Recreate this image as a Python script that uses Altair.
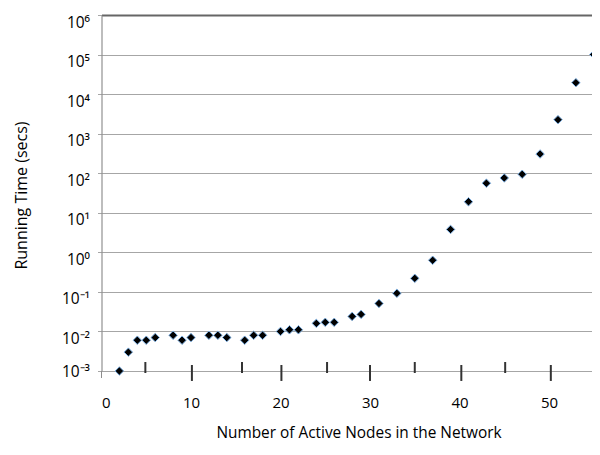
import altair as alt
import pandas as pd

# Data
nodes = [2, 3, 4, 5, 6, 8, 9, 10, 12, 13, 14, 16, 17, 18, 20, 21, 22, 24, 25, 26,
         28, 29, 31, 33, 35, 37, 39, 41, 43, 45, 47, 49, 51, 53, 55]
run_time = [0.001, 0.003, 0.006, 0.006, 0.007, 0.008, 0.006, 0.007, 0.008, 0.008,
            0.007, 0.006, 0.008, 0.008, 0.010, 0.011, 0.011, 0.016, 0.017, 0.017,
            0.024, 0.027, 0.051, 0.092, 0.22, 0.63, 3.8, 19, 56, 76, 94, 306,
            2260, 19500, 100000]

# decorative tick marks along the bottom line (as drawn in the original)
tick_x = [4.9, 10.1, 15.7, 20.1, 25.2, 30.0, 35.0, 40.2, 45.1, 50.2]
tick_top = [1.69e-3, 1.42e-3, 1.69e-3, 1.42e-3, 1.69e-3, 1.42e-3, 1.69e-3, 1.42e-3, 1.69e-3, 1.42e-3]
tick_bot = [8.9e-4, 5.6e-4, 8.9e-4, 5.6e-4, 8.9e-4, 5.6e-4, 8.9e-4, 5.6e-4, 8.9e-4, 5.6e-4]

y_ticks = [1e-3, 1e-2, 1e-1, 1e0, 1e1, 1e2, 1e3, 1e4, 1e5, 1e6]
x_ticks = [0, 10, 20, 30, 40, 50]

df = pd.DataFrame({"n": nodes, "t": run_time})
ticks_df = pd.DataFrame({"x": tick_x, "y1": tick_top, "y2": tick_bot})
stub_df = pd.DataFrame({"x": [0], "y1": [1e-3], "y2": [6.65e-4]})

FONT = "Open Sans"

x_scale = alt.Scale(domain=[0, 54.8], nice=False, zero=False)
y_scale = alt.Scale(type="log", domain=[1e-3, 1e6], nice=False)

sup_expr = (
    "'10' + (round(log(datum.value)/LN10) < 0 ? '\u207b' : '') + "
    "substring('\u2070\u00b9\u00b2\u00b3\u2074\u2075\u2076\u2077\u2078\u2079', "
    "abs(round(log(datum.value)/LN10)), abs(round(log(datum.value)/LN10)) + 1)"
)

points = alt.Chart(df).mark_point(
    shape="diamond", filled=True, size=72, fill="#000000",
    stroke="#7fb2e5", strokeWidth=1, opacity=1, clip=False
).encode(
    x=alt.X("n:Q", scale=x_scale, axis=alt.Axis(
        values=x_ticks, title="Number of Active Nodes in the Network",
        grid=False, domain=False, ticks=False, labelPadding=24,
        labelFont=FONT, labelFontSize=15, labelColor="#000000",
        titleFont=FONT, titleFontSize=15.4, titleFontWeight="normal", titleColor="#000000",
        titleX=257, titleY=66, titleBaseline="alphabetic", titleAnchor="middle",
    )),
    y=alt.Y("t:Q", scale=y_scale, axis=alt.Axis(
        values=y_ticks, labelExpr=sup_expr, title="Running Time (secs)",
        grid=True, gridColor={"condition": {"test": "datum.value >= 1e6", "value": "#666666"}, "value": "#a6a6a6"},
        gridWidth={"condition": {"test": "datum.value >= 1e6", "value": 2}, "value": 1},
        domain=True, domainColor="#8c8c8c", domainWidth=1,
        ticks=True, tickSize=4, tickColor="#a6a6a6",
        labelPadding=8, labelBaseline="middle",
        labelOffset={"condition": {"test": "datum.value <= 1e-3", "value": 0}, "value": 7},
        labelFont=FONT, labelFontSize=15.5, labelColor="#000000",
        titleFont=FONT, titleFontSize=16, titleFontWeight="normal", titleColor="#000000",
        titleX=-75.5, titleY=180, titleBaseline="alphabetic", titleAngle=270,
    )),
)

tick_marks = alt.Chart(ticks_df).mark_rule(color="#333333", strokeWidth=2).encode(
    x=alt.X("x:Q", scale=x_scale),
    y=alt.Y("y1:Q", scale=y_scale),
    y2="y2:Q",
)

stub = alt.Chart(stub_df).mark_rule(color="#8c8c8c", strokeWidth=1).encode(
    x=alt.X("x:Q", scale=x_scale),
    y=alt.Y("y1:Q", scale=y_scale),
    y2="y2:Q",
)

chart = alt.layer(stub, tick_marks, points).properties(
    width=490.5, height=356,
    autosize=alt.AutoSizeParams(type="none"),
    padding={"left": 93.5, "top": 7, "right": 0, "bottom": 76},
).configure_view(stroke=None).configure(background="#ffffff")

chart.save("out.html", embed_options={"renderer": "svg", "actions": False})
